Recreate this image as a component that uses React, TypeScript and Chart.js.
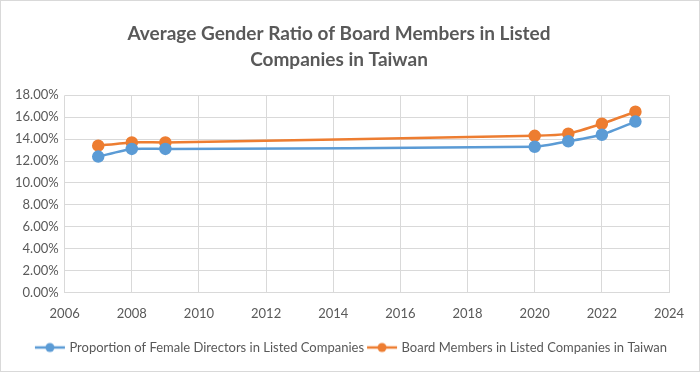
import React, { useEffect, useRef } from "react";
import { Chart, registerables } from "chart.js";

Chart.register(...registerables);

const years = [2007, 2008, 2009, 2020, 2021, 2022, 2023];
const femaleDirectors = [12.4, 13.1, 13.1, 13.3, 13.8, 14.4, 15.6];
const boardMembers = [13.4, 13.7, 13.7, 14.3, 14.5, 15.4, 16.5];
const seriesNames = [
  "Proportion of Female Directors in Listed Companies",
  "Board Members in Listed Companies in Taiwan",
];
const titleLines = ["Average Gender Ratio of Board Members in Listed", "Companies in Taiwan"];

const BLUE = "#5B9BD5";
const ORANGE = "#ED7D31";
const TEXT = "#595959";
const FONT = "Lato, 'Open Sans', sans-serif";

function legendIcon(color: string) {
  const c = document.createElement("canvas");
  c.width = 32;
  c.height = 12;
  const ctx = c.getContext("2d")!;
  ctx.strokeStyle = color;
  ctx.lineWidth = 2.5;
  ctx.beginPath();
  ctx.moveTo(1, 6);
  ctx.lineTo(31, 6);
  ctx.stroke();
  ctx.fillStyle = color;
  ctx.beginPath();
  ctx.arc(16, 6, 4.5, 0, Math.PI * 2);
  ctx.fill();
  return c;
}

const shiftLegend = {
  id: "shiftLegend",
  afterUpdate(chart: any) {
    const lg = chart.legend;
    if (lg) {
      lg.left += 13;
      lg.right += 13;
    }
  },
};

export default function App() {
  const ref = useRef<HTMLCanvasElement>(null);
  useEffect(() => {
    document.body.style.margin = "0";
    const icons = [legendIcon(BLUE), legendIcon(ORANGE)];
    const chart = new Chart(ref.current!, {
      type: "line",
      plugins: [shiftLegend],
      data: {
        datasets: [
          {
            label: seriesNames[0],
            data: years.map((y, i) => ({ x: y, y: femaleDirectors[i] })),
            borderColor: BLUE,
            backgroundColor: BLUE,
            borderWidth: 2.5,
            pointRadius: 5,
            pointHoverRadius: 5,
            tension: 0.2,
          },
          {
            label: seriesNames[1],
            data: years.map((y, i) => ({ x: y, y: boardMembers[i] })),
            borderColor: ORANGE,
            backgroundColor: ORANGE,
            borderWidth: 2.5,
            pointRadius: 5,
            pointHoverRadius: 5,
            tension: 0.2,
          },
        ],
      },
      options: {
        animation: false,
        responsive: false,
        layout: { padding: { left: 8, right: 30, top: 20, bottom: 7 } },
        plugins: {
          title: {
            display: true,
            text: titleLines,
            color: TEXT,
            font: { family: FONT, size: 19, weight: "bold", lineHeight: 1.35 },
            padding: { top: 0, bottom: 23 },
          },
          legend: {
            position: "bottom",
            labels: {
              usePointStyle: true,
              pointStyleWidth: 26,
              color: TEXT,
              font: { family: FONT, size: 13 },
              padding: 5,
              generateLabels: (ch: any) =>
                ch.data.datasets.map((d: any, i: number) => ({
                  text: d.label,
                  fillStyle: d.borderColor,
                  strokeStyle: d.borderColor,
                  pointStyle: icons[i],
                  datasetIndex: i,
                  hidden: false,
                  fontColor: TEXT,
                })),
            },
          },
          tooltip: { enabled: false },
        },
        scales: {
          x: {
            type: "linear",
            min: 2006,
            max: 2024,
            ticks: {
              stepSize: 2,
              color: TEXT,
              font: { family: FONT, size: 13 },
              callback: (v: any) => String(v),
              padding: 14,
            },
            grid: { color: "#D9D9D9", drawTicks: false },
            border: { color: "#D9D9D9" },
          },
          y: {
            min: 0,
            max: 18,
            ticks: {
              stepSize: 2,
              color: TEXT,
              font: { family: FONT, size: 13 },
              callback: (v: any) => Number(v).toFixed(2) + "%",
              padding: 6,
            },
            grid: { color: "#D9D9D9", drawTicks: false },
            border: { display: false },
          },
        },
      },
    });
    return () => chart.destroy();
  }, []);
  return (
    <div style={{ width: 700, height: 372, boxSizing: "border-box", border: "1px solid #D9D9D9", background: "#fff" }}>
      <canvas ref={ref} width={698} height={370} style={{ display: "block" }} />
    </div>
  );
}
